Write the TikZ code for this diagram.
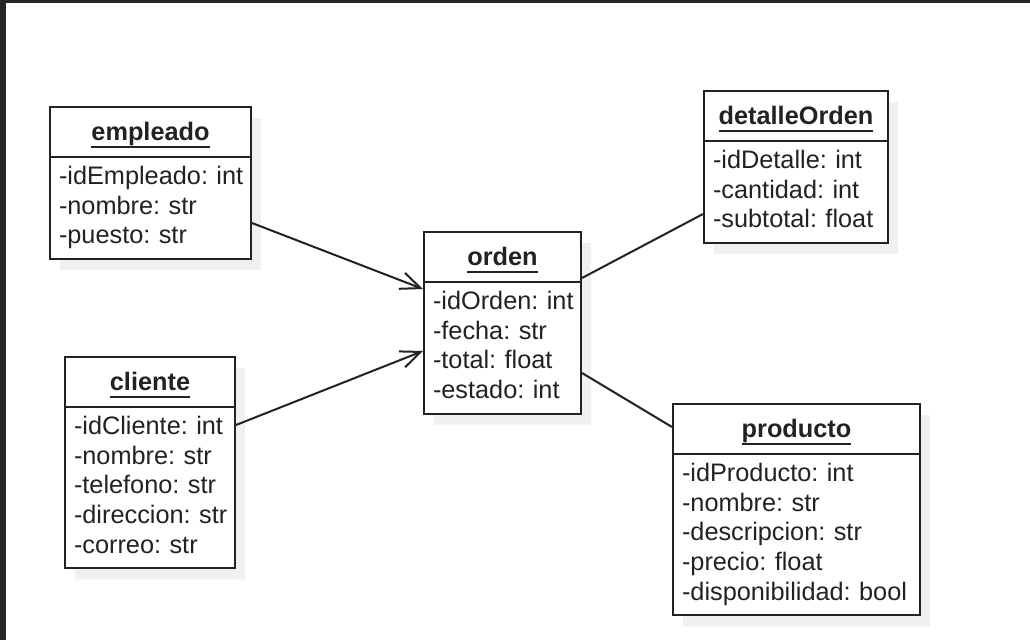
\documentclass[tikz,border=0pt]{standalone}
\usepackage{fontspec}
\setmainfont{Liberation Sans}
\usetikzlibrary{shapes.multipart}
\usetikzlibrary{shadows}
\usetikzlibrary{arrows.meta}
\definecolor{inkgray}{HTML}{222222}
\definecolor{shadowgray}{HTML}{F0F0F0}
\definecolor{framegray}{HTML}{262626}
\frenchspacing
\newcommand{\utxt}[1]{\setbox0\hbox{#1}\rlap{\copy0}\rule[-7pt]{\wd0}{2pt}}
\newcommand{\ctitle}[1]{\hbox to\hsize{\hss\rule[-9.2pt]{0pt}{36.4pt}\utxt{\bfseries #1}\hss}}
\newcommand{\attr}[1]{\mbox{\rule[-8.5pt]{0pt}{29.7pt}#1}}
\newcommand{\umlclass}[4]{\node[classbox, text width=#3] (#1) at (#2) {\ctitle{#1}\nodepart{two}#4};}
\tikzset{
  classbox/.style={rectangle split, rectangle split parts=2, draw=inkgray, fill=white,
    line width=2pt, inner xsep=9pt, inner ysep=5.6pt, anchor=north west, align=left,
    text=inkgray, font=\fontsize{25.3pt}{29.7pt}\selectfont,
    drop shadow={shadow xshift=10pt, shadow yshift=-11pt, fill=shadowgray, opacity=1}},
  assoc/.style={draw=inkgray, line width=2pt},
  navarrow/.style={assoc, -{Straight Barb[length=20pt, width=17pt, line width=2pt]}}
}
\begin{document}
\begin{tikzpicture}[x=1pt, y=-1pt]
        % page
        \fill[white] (0,0) rectangle (1030,640);
        \useasboundingbox (0,0) rectangle (1030,640);
        \fill[framegray] (0,0) rectangle (1030,3);
        \fill[framegray] (0,0) rectangle (6,640);
        % left column
        \umlclass{empleado}{49,106}{183pt}{\attr{-idEmpleado: int}\\ \attr{-nombre: str}\\ \attr{-puesto: str}}
        \umlclass{cliente}{64,356}{152pt}{\attr{-idCliente: int}\\ \attr{-nombre: str}\\ \attr{-telefono: str}\\ \attr{-direccion: str}\\ \attr{-correo: str}}
        % middle
        \umlclass{orden}{423,231}{139pt}{\attr{-idOrden: int}\\ \attr{-fecha: str}\\ \attr{-total: float}\\ \attr{-estado: int}}
        % right column
        \umlclass{detalleOrden}{703,90}{166pt}{\attr{-idDetalle: int}\\ \attr{-cantidad: int}\\ \attr{-subtotal: float}}
        \umlclass{producto}{672,403}{229pt}{\attr{-idProducto: int}\\ \attr{-nombre: str}\\ \attr{-descripcion: str}\\ \attr{-precio: float}\\ \attr{-disponibilidad: bool}}
        % relations
        \draw[navarrow] ([yshift=-117pt]empleado.north east) -- ([yshift=-58pt]orden.north west);
        \draw[navarrow] ([yshift=-69pt]cliente.north east) -- ([yshift=-120pt]orden.north west);
        \draw[assoc] ([yshift=-47pt]orden.north east) -- ([yshift=-124pt]detalleOrden.north west);
        \draw[assoc] ([yshift=-142pt]orden.north east) -- ([yshift=-24pt]producto.north west);
\end{tikzpicture}
\end{document}
